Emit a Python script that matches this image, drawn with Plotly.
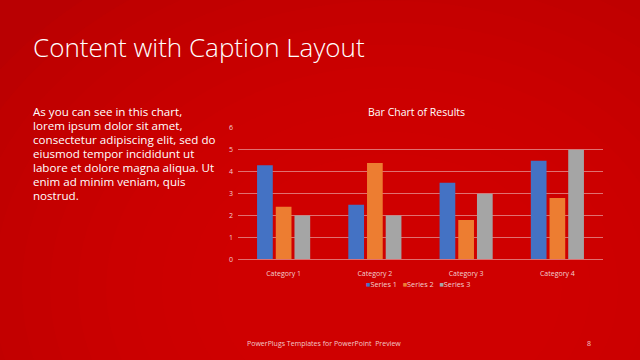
import plotly.graph_objects as go

categories = ["Category 1", "Category 2", "Category 3", "Category 4"]
series_names = ["Series 1", "Series 2", "Series 3"]
series1 = [4.3, 2.5, 3.5, 4.5]
series2 = [2.4, 4.4, 1.8, 2.8]
series3 = [2.0, 2.0, 3.0, 5.0]
colors = ["#4472C4", "#ED7D31", "#A5A5A5"]
y_ticks = [0, 1, 2, 3, 4, 5, 6]

body_lines = [
    "As you can see in this chart,",
    "lorem ipsum dolor sit amet,",
    "consectetur adipiscing elit, sed do",
    "eiusmod tempor incididunt ut",
    "labore et dolore magna aliqua. Ut",
    "enim ad minim veniam, quis",
    "nostrud.",
]

W, H = 640, 360
bg = "#B90002"
faint = "#F2D0D0"

fig = go.Figure()
for name, vals, col in zip(series_names, [series1, series2, series3], colors):
    fig.add_trace(go.Bar(x=categories, y=vals, name=name, marker_color=col,
                         marker_line_width=0, showlegend=False))

# soft radial glow in the background (brighter toward lower centre)
cx, cy = 390, 290
for k in range(12):
    r = 480 - k * 28
    fig.add_shape(type="circle", xref="paper", yref="paper", layer="below",
                  x0=(cx - r) / W, x1=(cx + r) / W, y0=1 - (cy + r * 0.8) / H, y1=1 - (cy - r * 0.8) / H,
                  fillcolor="rgba(225,0,0,0.075)", line_width=0)

fig.update_layout(
    width=W, height=H,
    margin=dict(l=0, r=0, t=0, b=0),
    paper_bgcolor=bg, plot_bgcolor="rgba(0,0,0,0)",
    barmode="group", bargap=0.385, bargroupgap=0.16,
    font=dict(family="Open Sans", color="white"),
    showlegend=False,
    xaxis=dict(domain=[238 / W, 603 / W], showgrid=False, showline=True,
               linecolor="#E07070", linewidth=1, ticks="",
               tickfont=dict(size=7, color=faint), ticklabelstandoff=7, fixedrange=True),
    yaxis=dict(domain=[1 - 261 / H, 1 - 126 / H], range=[0, 6], tickvals=y_ticks,
               showgrid=True, gridcolor="#E07070", gridwidth=1, zeroline=False,
               showline=False, ticks="", tickfont=dict(size=7, color=faint),
               ticklabelstandoff=4, fixedrange=True),
)

# Legend built from the series names and colours
legend_text = "&nbsp;&nbsp;&nbsp;".join(
    f"<span style='color:{c}'>■</span>{n}" for n, c in zip(series_names, colors))
fig.add_annotation(text=legend_text, xref="paper", yref="paper",
                   x=418 / W, y=1 - 286 / H, xanchor="center", yanchor="middle",
                   showarrow=False, font=dict(size=7.3, color=faint, family="Open Sans"))

# Slide title
fig.add_annotation(text="Content with Caption Layout", xref="paper", yref="paper",
                   x=31 / W, y=1 - 43 / H, xanchor="left", yanchor="middle",
                   showarrow=False, font=dict(size=26, color="white", family="Open Sans", weight=300))

# Body text, one line at a time
y0, dy = 109, 14.4
for i, line in enumerate(body_lines):
    fig.add_annotation(text=line, xref="paper", yref="paper",
                       x=31 / W, y=1 - (y0 + i * dy) / H, xanchor="left", yanchor="middle",
                       align="left", showarrow=False,
                       font=dict(size=11.6, color="white", family="Open Sans"))

# Chart title
fig.add_annotation(text="Bar Chart of Results", xref="paper", yref="paper",
                   x=416 / W, y=1 - 110 / H, xanchor="center", yanchor="middle",
                   showarrow=False, font=dict(size=10.5, color="white", family="Open Sans"))

# Footer
fig.add_annotation(text="PowerPlugs Templates for PowerPoint  Preview", xref="paper", yref="paper",
                   x=245 / W, y=1 - 347 / H, xanchor="left", yanchor="middle",
                   showarrow=False, font=dict(size=7, color="#F2C8C8", family="Open Sans"))
fig.add_annotation(text="8", xref="paper", yref="paper",
                   x=589 / W, y=1 - 347 / H, xanchor="center", yanchor="middle",
                   showarrow=False, font=dict(size=7, color="#F2C8C8", family="Open Sans"))

fig.write_html("out.html", config={"displayModeBar": False},
               post_script="document.body.style.margin='0';document.body.style.overflow='hidden';")
